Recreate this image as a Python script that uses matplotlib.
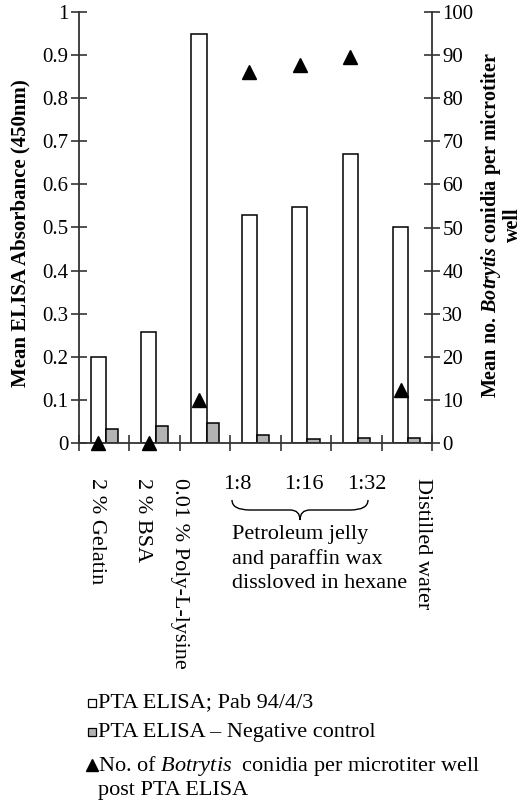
import numpy as np
import matplotlib
matplotlib.use('Agg')
import matplotlib.pyplot as plt
from matplotlib.path import Path
from matplotlib.patches import PathPatch, Rectangle
from matplotlib.lines import Line2D

plt.rcParams['font.family'] = ['Liberation Serif', 'DejaVu Serif']
plt.rcParams['mathtext.fontset'] = 'custom'
plt.rcParams['mathtext.rm'] = 'Liberation Serif'
plt.rcParams['mathtext.it'] = 'Liberation Serif:italic'
plt.rcParams['mathtext.bf'] = 'Liberation Serif:bold'
plt.rcParams['mathtext.bfit'] = 'Liberation Serif:italic:bold'

# data
categories = ['2 % Gelatin', '2 % BSA', '0.01 % Poly-L-lysine', '1:8', '1:16', '1:32', 'Distilled water']
pta_elisa = [0.200, 0.257, 0.950, 0.528, 0.548, 0.671, 0.501]
neg_control = [0.032, 0.040, 0.046, 0.019, 0.009, 0.012, 0.012]
conidia = [0, 0, 10, 86, 87.6, 89.5, 12.3]

W, H = 521, 809
AX_COL = '#333333'
GREY = '#b3b3b3'


def fx(x):
    return x / W


def fy(y):
    return 1 - y / H


fig = plt.figure(figsize=(W / 100, H / 100), dpi=100)
ax = fig.add_axes([fx(79), fy(443), fx(432) - fx(79), fy(12) - fy(443)])
ax2 = ax.twinx()

x = np.arange(len(categories))
ax.bar(x - 0.12, pta_elisa, 0.30, color='white', edgecolor='black', linewidth=1.1, zorder=2)
ax.bar(x + 0.15, neg_control, 0.24, color=GREY, edgecolor='black', linewidth=1.1, zorder=2)
ax2.plot(x - 0.12, conidia, linestyle='none', marker='^', markersize=10,
         color='black', clip_on=False, zorder=3)

ax.set_xlim(-0.5, len(categories) - 0.5)
ax.set_ylim(0, 1)
ax2.set_ylim(0, 100)
ax.set_yticks(np.arange(0, 1.01, 0.1))
ax.set_yticklabels(['0'] + ['%.1f' % v for v in np.arange(0.1, 0.95, 0.1)] + ['1'])
ax2.set_yticks(np.arange(0, 101, 10))
ax.set_xticks(np.arange(-0.5, len(categories), 1.0))
ax.set_xticklabels([])

for a in (ax, ax2):
    a.spines['top'].set_visible(False)
    for s in ('left', 'right', 'bottom'):
        a.spines[s].set_color(AX_COL)
        a.spines[s].set_linewidth(1.3)
ax.spines['right'].set_visible(False)
ax2.spines['left'].set_visible(False)
ax2.spines['bottom'].set_visible(False)
ax.tick_params(axis='y', direction='inout', length=11, width=1.2, color=AX_COL,
               labelsize=15, pad=2)
ax.tick_params(axis='x', direction='inout', length=12, width=1.2, color=AX_COL)
ax2.tick_params(axis='y', direction='inout', length=11, width=1.2, color=AX_COL,
                labelsize=15, pad=2)

# axis titles
fig.text(fx(20), fy(233), 'Mean ELISA Absorbance (450nm)', rotation=90,
         ha='center', va='center', fontsize=15, fontweight='bold')
fig.text(fx(501), fy(225), 'Mean no. $\\mathbfit{Botrytis}$ conidia per microtiter\nwell',
         rotation=90, ha='center', va='center', fontsize=14.5, fontweight='bold',
         multialignment='center', linespacing=0.95)

# category labels under the axis
rot_labels = [(categories[0], 96), (categories[1], 142), (categories[2], 179), (categories[6], 423)]
for lab, px in rot_labels:
    fig.text(fx(px), fy(478), lab, rotation=-90, ha='center', va='top', fontsize=16)
for lab, px in [(categories[3], 237.5), (categories[4], 304), (categories[5], 366.5)]:
    fig.text(fx(px), fy(484), lab, ha='center', va='center', fontsize=16)

# curly brace
bx0, bx1, bxm, by0, bym, byt = 232, 368, 300, 500, 510, 520
verts = [(bx0, by0), (bx0, bym), (bx0 + 18, bym),
         (bxm - 10, bym),
         (bxm, bym), (bxm, byt),
         (bxm, bym), (bxm + 10, bym),
         (bx1 - 18, bym),
         (bx1, bym), (bx1, by0)]
codes = [Path.MOVETO, Path.CURVE3, Path.CURVE3, Path.LINETO,
         Path.CURVE3, Path.CURVE3, Path.CURVE3, Path.CURVE3,
         Path.LINETO, Path.CURVE3, Path.CURVE3]
brace = Path([(fx(a), fy(b)) for a, b in verts], codes)
fig.add_artist(PathPatch(brace, transform=fig.transFigure, facecolor='none',
                         edgecolor='black', linewidth=1.0))
for i, line in enumerate(['Petroleum jelly', 'and paraffin wax', 'dissloved in hexane']):
    fig.text(fx(232.5), fy(534 + 25 * i), line, ha='left', va='center', fontsize=16)

# legend
sq = 8
fig.add_artist(Rectangle((fx(92 - sq / 2), fy(703 + sq / 2)), sq / W, sq / H,
                         transform=fig.transFigure, facecolor='white', edgecolor='black', linewidth=0.9))
fig.add_artist(Rectangle((fx(92 - sq / 2), fy(732 + sq / 2)), sq / W, sq / H,
                         transform=fig.transFigure, facecolor=GREY, edgecolor='black', linewidth=0.9))
fig.add_artist(Line2D([fx(92)], [fy(765)], marker='^', markersize=8, color='black',
                      linestyle='none', transform=fig.transFigure))
fig.text(fx(98), fy(703), 'PTA ELISA; Pab 94/4/3', ha='left', va='center', fontsize=16)
fig.text(fx(98), fy(732), 'PTA ELISA \u2013 Negative control', ha='left', va='center', fontsize=16)
fig.text(fx(98), fy(766), 'No. of $\\mathit{Botrytis}$  conidia per microtiter well',
         ha='left', va='center', fontsize=16)
fig.text(fx(98), fy(790), 'post PTA ELISA', ha='left', va='center', fontsize=16)

fig.savefig('out.png', dpi=100)
